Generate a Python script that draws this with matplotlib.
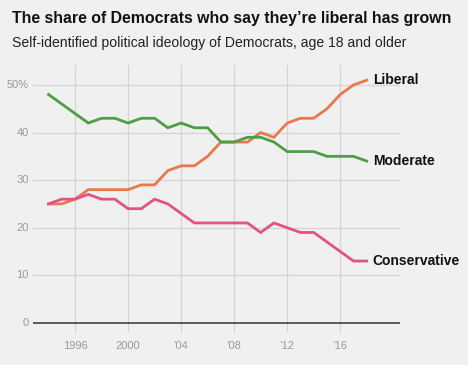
import matplotlib
matplotlib.use('Agg')
import matplotlib.pyplot as plt

plt.rcParams['font.family'] = ['Liberation Sans', 'DejaVu Sans']

years = list(range(1994, 2019))
liberal = [25, 25, 26, 28, 28, 28, 28, 29, 29, 32, 33, 33, 35, 38, 38, 38, 40, 39, 42, 43, 43, 45, 48, 50, 51]
moderate = [48, 46, 44, 42, 43, 43, 42, 43, 43, 41, 42, 41, 41, 38, 38, 39, 39, 38, 36, 36, 36, 35, 35, 35, 34]
conservative = [25, 26, 26, 27, 26, 26, 24, 24, 26, 25, 23, 21, 21, 21, 21, 21, 19, 21, 20, 19, 19, 17, 15, 13, 13]

series_names = ['Liberal', 'Moderate', 'Conservative']
series_colors = ['#e8794a', '#4f9e47', '#e2528a']

xtick_pos = [1996, 2000, 2004, 2008, 2012, 2016]
xtick_labels = ['1996', '2000', "\u201904", "\u201908", "\u201912", "\u201916"]
ytick_pos = [0, 10, 20, 30, 40, 50]
ytick_labels = ['0', '10', '20', '30', '40', '50%']

bg = '#f0f0f0'
fig = plt.figure(figsize=(4.68, 3.65), dpi=100, facecolor=bg)
ax = fig.add_axes([0.0705, 0.088, 0.784, 0.734], facecolor=bg)

for vals, name, col in zip([liberal, moderate, conservative], series_names, series_colors):
    ax.plot(years, vals, color=col, linewidth=2.0, solid_joinstyle='miter', zorder=3)
    ax.text(years[-1] + 0.45, vals[-1], name, fontsize=10, fontweight='bold',
            color='#111111', va='center', ha='left', clip_on=False)

ax.set_xlim(1992.83, 2020.5)
ax.set_ylim(-2.1, 54.2)

for y in ytick_pos[1:]:
    ax.axhline(y, color='#d4d4d4', linewidth=0.9, zorder=1)
for x in xtick_pos:
    ax.axvline(x, color='#d4d4d4', linewidth=0.9, zorder=1)
ax.axhline(0, color='#333333', linewidth=1.1, zorder=2)

ax.set_xticks(xtick_pos)
ax.set_xticklabels(xtick_labels)
ax.set_yticks(ytick_pos)
ax.set_yticklabels(ytick_labels)
ax.tick_params(length=0, labelsize=8, labelcolor='#999999')
ax.tick_params(axis='x', pad=6)
ax.tick_params(axis='y', pad=3)
for lbl in ax.get_yticklabels():
    lbl.set_verticalalignment('center')
for s in ax.spines.values():
    s.set_visible(False)

fig.text(0.026, 0.95, 'The share of Democrats who say they\u2019re liberal has grown',
         fontsize=11.4, fontweight='bold', color='#111111', va='center', ha='left')
fig.text(0.026, 0.882, 'Self-identified political ideology of Democrats, age 18 and older',
         fontsize=10.1, color='#222222', va='center', ha='left')

fig.savefig('out.png', dpi=100, facecolor=bg)
